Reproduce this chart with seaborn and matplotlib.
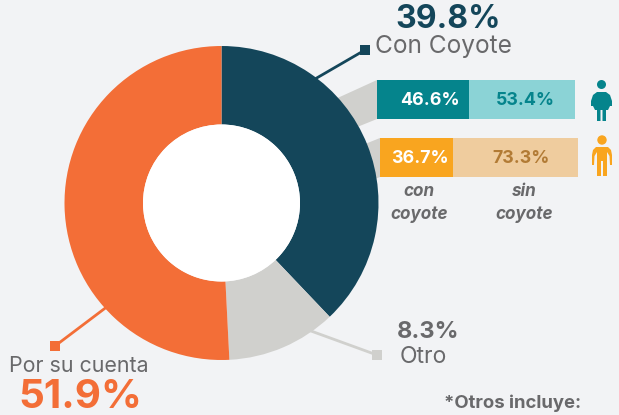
import matplotlib
matplotlib.use("Agg")
import matplotlib.pyplot as plt
from matplotlib.patches import Circle, Polygon, Rectangle
import pandas as pd
import seaborn as sns

FONDO = "#F2F3F5"
sns.set_theme(style="white")
plt.rcParams["font.family"] = ["Inter", "DejaVu Sans"]

# wedge sizes as drawn in the picture, the printed labels differ a bit
categorias = ["Con Coyote", "Otro", "Por su cuenta"]
rebanadas = [37.9, 11.3, 50.8]
colores_dona = ["#14465A", "#D0D0CD", "#F36E37"]

grupos = ["con", "sin"]
mujeres = [46.6, 53.4]
hombres = [36.7, 63.3]
etiq_mujeres = ["46.6%", "53.4%"]
etiq_hombres = ["36.7%", "73.3%"]

GRIS = "#69696B"


def px_axes(fig, left, top, width, height, **kw):
    return fig.add_axes([left / 619, 1 - (top + height) / 415, width / 619, height / 415], **kw)


def barra(fig, left, top, valores, colores, etiquetas, colores_txt, pos_txt):
    ax = px_axes(fig, left, top, 198, 39)
    df = pd.DataFrame({"fila": ["a", "a"], "valor": valores, "grupo": grupos})
    sns.barplot(data=df, y="fila", x="valor", hue="grupo", palette=colores, dodge=False,
                width=1, ax=ax, legend=False, saturation=1, linewidth=0)
    # second container has to start where the first one ends
    for patch in ax.containers[1]:
        patch.set_x(valores[0])
    ax.set_xlim(0, 100)
    ax.set_ylim(0.5, -0.5)
    ax.axis("off")
    for x, et, col in zip(pos_txt, etiquetas, colores_txt):
        ax.text(x, 0.02, et, color=col, ha="center", va="center", fontsize=12.8, fontweight="bold")
    return ax


fig = plt.figure(figsize=(6.19, 4.15), dpi=100, facecolor=FONDO)

# layer behind the donut with the grey funnels
fondo = px_axes(fig, 0, 0, 619, 415, zorder=0)
fondo.set_xlim(0, 619)
fondo.set_ylim(415, 0)
fondo.axis("off")
fondo.add_patch(Polygon([(377, 80), (320, 106), (330, 138), (377, 119)], color="#D0D0CD", lw=0))
fondo.add_patch(Polygon([(380, 138), (350, 150), (360, 185), (380, 177)], color="#D0D0CD", lw=0))
fondo.plot([315, 365], [79, 50], color=colores_dona[0], lw=2)
fondo.plot([108, 55], [306, 346], color=colores_dona[2], lw=2)
fondo.plot([300, 377], [327, 355], color=colores_dona[1], lw=2)
fondo.add_patch(Rectangle((360, 45), 10, 10, color=colores_dona[0], lw=0))
fondo.add_patch(Rectangle((50, 341), 10, 10, color=colores_dona[2], lw=0))
fondo.add_patch(Rectangle((372, 350), 10, 10, color=colores_dona[1], lw=0))

# donut
dona = px_axes(fig, 64, 46, 315, 314, zorder=1)
dona.pie(rebanadas, colors=colores_dona, startangle=90, counterclock=False, radius=1,
         wedgeprops={"width": 0.5, "linewidth": 0})
dona.add_patch(Circle((0, 0), 0.5, color="white", lw=0))
dona.set_xlim(-1, 1)
dona.set_ylim(-1, 1)

# stacked bars
barra(fig, 377, 80, mujeres, ["#05848C", "#8BD3D6"], etiq_mujeres, ["white", "#05848C"], [26.5, 75])
barra(fig, 380, 138, hombres, ["#F9A51F", "#EFCC9E"], etiq_hombres, ["white", "#B27B35"], [20.2, 71.2])

# text and icons on top
top = px_axes(fig, 0, 0, 619, 415, zorder=3)
top.set_xlim(0, 619)
top.set_ylim(415, 0)
top.axis("off")
top.patch.set_alpha(0)

top.text(448, 20, "39.8%", color=colores_dona[0], ha="center", va="center", fontsize=23, fontweight="bold")
top.text(443, 46, "Con Coyote", color=GRIS, ha="center", va="center", fontsize=17.6)
top.text(79, 366, "Por su cuenta", color=GRIS, ha="center", va="center", fontsize=15.4)
top.text(80, 397, "51.9%", color=colores_dona[2], ha="center", va="center", fontsize=29, fontweight="bold")
top.text(428, 332, "8.3%", color=GRIS, ha="center", va="center", fontsize=17, fontweight="bold")
top.text(423, 357, "Otro", color=GRIS, ha="center", va="center", fontsize=16.5)
top.text(513, 403, "*Otros incluye:", color=GRIS, ha="center", va="center", fontsize=13.3, fontweight="bold")
top.text(419, 191, "con", color=GRIS, ha="center", va="center", fontsize=12.3, fontweight="bold", style="italic")
top.text(419, 214, "coyote", color=GRIS, ha="center", va="center", fontsize=12.3, fontweight="bold", style="italic")
top.text(524, 191, "sin", color=GRIS, ha="center", va="center", fontsize=12.3, fontweight="bold", style="italic")
top.text(524, 214, "coyote", color=GRIS, ha="center", va="center", fontsize=12.3, fontweight="bold", style="italic")

# woman
c = "#05848C"
top.add_patch(Circle((601.5, 84.5), 4.5, color=c, lw=0))
top.add_patch(Polygon([(597, 92), (606, 92), (610, 95), (612, 101), (612, 106), (610, 106), (609, 101),
                       (610, 106), (608, 110), (606, 110), (606, 121), (602.5, 121), (602.5, 110),
                       (600.5, 110), (600.5, 121), (597, 121), (597, 110), (595, 110), (593, 106),
                       (594, 101), (593, 106), (591, 106), (591, 101), (593, 95)],
                      color=c, lw=0))
# man
c = "#F9A51F"
top.add_patch(Circle((602, 140), 4.7, color=c, lw=0))
top.add_patch(Polygon([(596, 147), (608, 147), (611, 150), (612, 155), (612, 165), (610, 165), (609.5, 156),
                       (607, 152), (607, 176), (603, 176), (603, 161), (601, 161), (601, 176), (597, 176),
                       (597, 152), (594.5, 156), (594, 165), (592, 165), (592, 155), (593, 150)],
                      color=c, lw=0))

fig.savefig("out.png", dpi=100, facecolor=FONDO)
